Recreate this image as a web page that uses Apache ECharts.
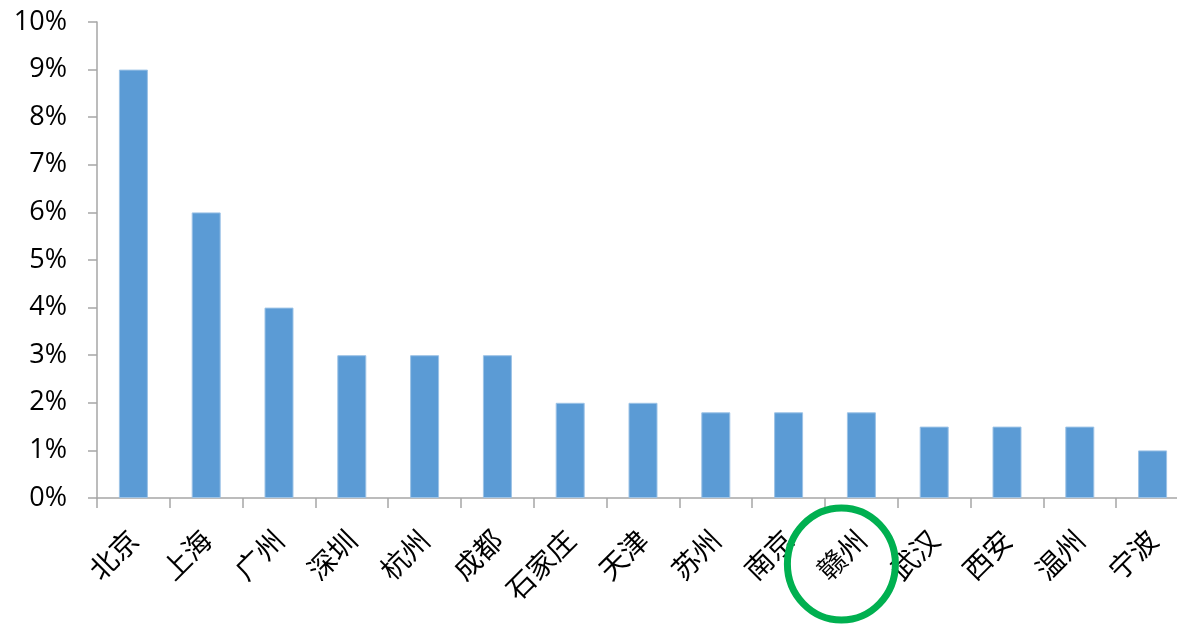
<!DOCTYPE html>
<html><head><meta charset="utf-8">
<script src="https://cdn.jsdelivr.net/npm/echarts@6/dist/echarts.min.js"></script>
<style>html,body{margin:0;padding:0;background:#fff}#c{width:1177px;height:624px}</style>
</head><body><div id="c"></div>
<script>
const categories = ['北京','上海','广州','深圳','杭州','成都','石家庄','天津','苏州','南京','赣州','武汉','西安','温州','宁波'];
const values = [9, 6, 4, 3, 3, 3, 2, 2, 1.8, 1.8, 1.8, 1.5, 1.5, 1.5, 1];
const yTicks = { min: 0, max: 10, interval: 1 };
const highlighted = '赣州';

const chart = echarts.init(document.getElementById('c'));
chart.setOption({
  animation: false,
  grid: { left: 97, top: 22, bottom: 126, right: -12, containLabel: false, outerBoundsMode: 'none' },
  xAxis: {
    type: 'category', data: categories,
    axisLine: { lineStyle: { color: '#a6a6a6', width: 1.5 } },
    axisTick: { show: true, length: 10, lineStyle: { color: '#a6a6a6', width: 1.5 } },
    axisLabel: { rotate: 45, margin: 37, fontSize: 28, color: '#000', fontFamily: 'Noto Sans CJK SC', interval: 0 }
  },
  yAxis: {
    type: 'value', min: yTicks.min, max: yTicks.max, interval: yTicks.interval,
    axisLine: { show: true, lineStyle: { color: '#a6a6a6', width: 1.5 } },
    axisTick: { show: true, length: 9, lineStyle: { color: '#a6a6a6', width: 1.5 } },
    splitLine: { show: false },
    axisLabel: { formatter: '{value}%', fontSize: 27, color: '#000', fontFamily: 'Open Sans', margin: 30 }
  },
  series: [{
    type: 'bar', data: values, barWidth: 29,
    itemStyle: { color: '#5b9bd5', borderColor: '#9dc3e6', borderWidth: 1 }
  }]
});
const idx = categories.indexOf(highlighted);
const p = chart.convertToPixel({ xAxisIndex: 0, yAxisIndex: 0 }, [idx, 0]);
chart.setOption({
  graphic: [{
    type: 'ellipse', shape: { cx: p[0] - 20, cy: p[1] + 66, rx: 54, ry: 56 },
    style: { fill: 'none', stroke: '#00b050', lineWidth: 7 }, z: 100
  }]
});
</script></body></html>
